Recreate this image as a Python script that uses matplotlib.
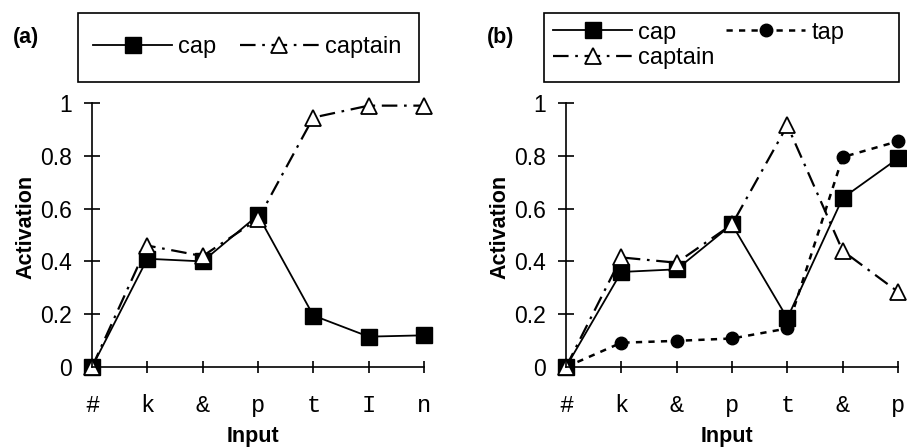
import matplotlib
matplotlib.use("Agg")
import matplotlib.pyplot as plt
from matplotlib.patches import Rectangle

# ---- data ----
labels_a = ["#", "k", "&", "p", "t", "I", "n"]
cap_a = [0.0, 0.41, 0.40, 0.575, 0.195, 0.115, 0.12]
captain_a = [0.0, 0.46, 0.42, 0.56, 0.945, 0.99, 0.99]

labels_b = ["#", "k", "&", "p", "t", "&", "p"]
cap_b = [0.0, 0.36, 0.37, 0.54, 0.185, 0.64, 0.79]
tap_b = [0.0, 0.092, 0.099, 0.108, 0.146, 0.795, 0.855]
captain_b = [0.0, 0.415, 0.395, 0.54, 0.915, 0.44, 0.285]

yticks = [0, 0.2, 0.4, 0.6, 0.8, 1]
ytick_labels = ["0", "0.2", "0.4", "0.6", "0.8", "1"]

plt.rcParams["font.family"] = ["Liberation Sans", "DejaVu Sans"]

W, H = 907, 448
fig = plt.figure(figsize=(W / 100, H / 100), dpi=100)

def px_axes(left, right, top, bottom):
    return fig.add_axes([left / W, 1 - bottom / H, (right - left) / W, (bottom - top) / H])

ax_a = px_axes(92, 424, 103, 367)
ax_b = px_axes(566, 898, 103, 367)

style_cap = dict(color="black", lw=1.3, ls="-", marker="s", ms=11,
                 mfc="black", mec="black", clip_on=False)
style_captain = dict(color="black", lw=1.6, ls=(0, (7, 3, 1.2, 3)), marker="^", ms=11,
                     mfc="white", mec="black", mew=1.3, clip_on=False)
style_tap = dict(color="black", lw=1.8, ls=(0, (2.5, 2.5)), marker="o", ms=9,
                 mfc="black", mec="black", clip_on=False)

def setup(ax, labels):
    ax.set_xlim(0, len(labels) - 1)
    ax.set_ylim(0, 1)
    ax.set_xticks(range(len(labels)))
    ax.set_xticklabels(labels, family=["Liberation Mono", "DejaVu Sans Mono"], fontsize=17)
    ax.set_yticks(yticks)
    ax.set_yticklabels(ytick_labels, fontsize=16.5)
    for s in ["top", "right"]:
        ax.spines[s].set_visible(False)
    for s in ["left", "bottom"]:
        ax.spines[s].set_linewidth(1.2)
    ax.tick_params(axis="y", direction="inout", length=11, width=1.2, pad=9)
    ax.tick_params(axis="x", direction="inout", length=9, width=1.2, pad=15)
    ax.set_ylabel("Activation", fontsize=15.5, fontweight="bold")
    ax.set_xlabel("Input", fontsize=15.5, fontweight="bold")
    ax.patch.set_alpha(0)

x_a = list(range(len(labels_a)))
x_b = list(range(len(labels_b)))

setup(ax_a, labels_a)
ax_a.plot(x_a, cap_a, label="cap", **style_cap)
ax_a.plot(x_a, captain_a, label="captain", **style_captain)
ax_a.yaxis.set_label_coords(-0.168, 0.53)
ax_a.xaxis.set_label_coords(0.485, -0.222)

setup(ax_b, labels_b)
ax_b.plot(x_b, cap_b, label="cap", **style_cap)
ax_b.plot(x_b, tap_b, label="tap", **style_tap)
ax_b.plot(x_b, captain_b, label="captain", **style_captain)
ax_b.yaxis.set_label_coords(-0.166, 0.53)
ax_b.xaxis.set_label_coords(0.485, -0.222)

leg_kw = dict(loc="center left", bbox_transform=fig.transFigure, frameon=False,
              fontsize=17, handlelength=3.35, handletextpad=0.25, borderpad=0,
              borderaxespad=0, labelspacing=0.15)

h, l = ax_a.get_legend_handles_labels()
ax_a.legend(h, l, ncol=2, columnspacing=1.0,
            bbox_to_anchor=(93 / W, 1 - 47 / H), **leg_kw)

h, l = ax_b.get_legend_handles_labels()
order = [0, 2, 1]
ax_b.legend([h[i] for i in order], [l[i] for i in order], ncol=2, columnspacing=0.5,
            bbox_to_anchor=(553 / W, 1 - 45.5 / H), **leg_kw)

for (x0, y0, x1, y1) in [(78, 13, 419, 82), (544, 13, 899, 82)]:
    fig.patches.append(Rectangle((x0 / W, 1 - y1 / H), (x1 - x0) / W, (y1 - y0) / H,
                                 transform=fig.transFigure, fill=False,
                                 edgecolor="black", linewidth=1.2))

fig.text(26 / W, 1 - 37 / H, "(a)", fontsize=15.5, fontweight="bold", ha="center", va="center")
fig.text(501 / W, 1 - 37 / H, "(b)", fontsize=15.5, fontweight="bold", ha="center", va="center")

fig.savefig("out.png", dpi=100)
